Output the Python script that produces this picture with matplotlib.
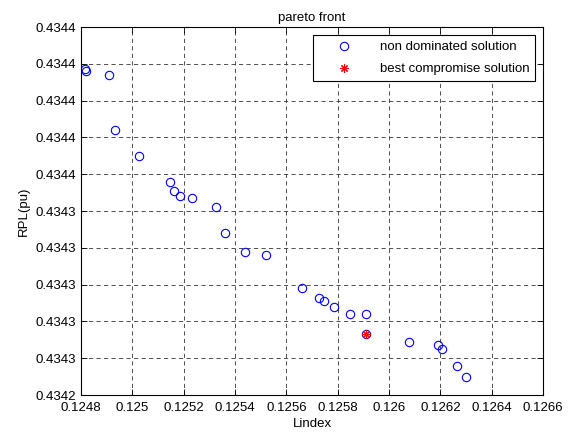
import numpy as np
import matplotlib
matplotlib.use('Agg')
import matplotlib.pyplot as plt
from matplotlib.ticker import FormatStrFormatter, FuncFormatter

plt.rcParams['font.family'] = ['Liberation Sans', 'DejaVu Sans']

# pareto front points
lindex = [0.124816, 0.124820, 0.124910, 0.124932, 0.125027, 0.125148, 0.125163,
          0.125186, 0.125231, 0.125326, 0.125360, 0.125439, 0.125521, 0.125661,
          0.125728, 0.125748, 0.125786, 0.125848, 0.125910, 0.125910, 0.126077,
          0.126192, 0.126205, 0.126264, 0.126300]
rpl = [0.434417, 0.434416, 0.434414, 0.434384, 0.434370, 0.434356, 0.434351,
       0.434348, 0.434347, 0.434342, 0.434328, 0.434318, 0.434316, 0.434298,
       0.434293, 0.434291, 0.434288, 0.434284, 0.434284, 0.434273, 0.434269,
       0.434267, 0.434265, 0.434256, 0.434250]
best_x = [0.125910]
best_y = [0.434273]

xticks = np.arange(0.1248, 0.12661, 0.0002)
yticks = np.arange(0.43424, 0.434441, 0.00002)


def main():
    fig = plt.figure(figsize=(5.71, 4.36), dpi=100)
    ax = fig.add_axes([0.1419, 0.094, 0.8091, 0.844])

    ax.plot(lindex, rpl, 'o', linestyle='none', markersize=6, markerfacecolor='none',
            markeredgecolor='blue', markeredgewidth=0.8, label='non dominated solution')
    ax.plot(best_x, best_y, linestyle='none', marker=(8, 2, 0), markersize=6,
            color='red', markeredgewidth=0.8, label='best compromise solution')

    ax.set_xlim(0.1248, 0.1266)
    ax.set_ylim(0.43424, 0.43444)
    ax.set_xticks(xticks)
    ax.set_yticks(yticks)
    ax.xaxis.set_major_formatter(FuncFormatter(lambda v, p: '%g' % round(v, 5)))
    ax.yaxis.set_major_formatter(FormatStrFormatter('%.4f'))
    ax.tick_params(direction='in', top=True, right=True, labelsize=9.5, length=4, width=0.6)
    ax.tick_params(axis='x', pad=5)
    for s in ax.spines.values():
        s.set_linewidth(0.8)

    ax.grid(True, color='#333333', linestyle=(0, (5, 4)), linewidth=0.6)

    ax.set_title('pareto front', fontsize=9.5, pad=4)
    ax.set_xlabel('Lindex', fontsize=9.5, labelpad=3)
    ax.set_ylabel('RPL(pu)', fontsize=9.5)

    leg = ax.legend(loc='upper right', fontsize=9.5, fancybox=False, framealpha=1,
                    edgecolor='black', borderaxespad=0.6, handlelength=3.8,
                    handletextpad=0.8, borderpad=0.45, labelspacing=0.75)
    leg.get_frame().set_linewidth(0.8)

    fig.savefig('out.png', dpi=100)


if __name__ == '__main__':
    main()
